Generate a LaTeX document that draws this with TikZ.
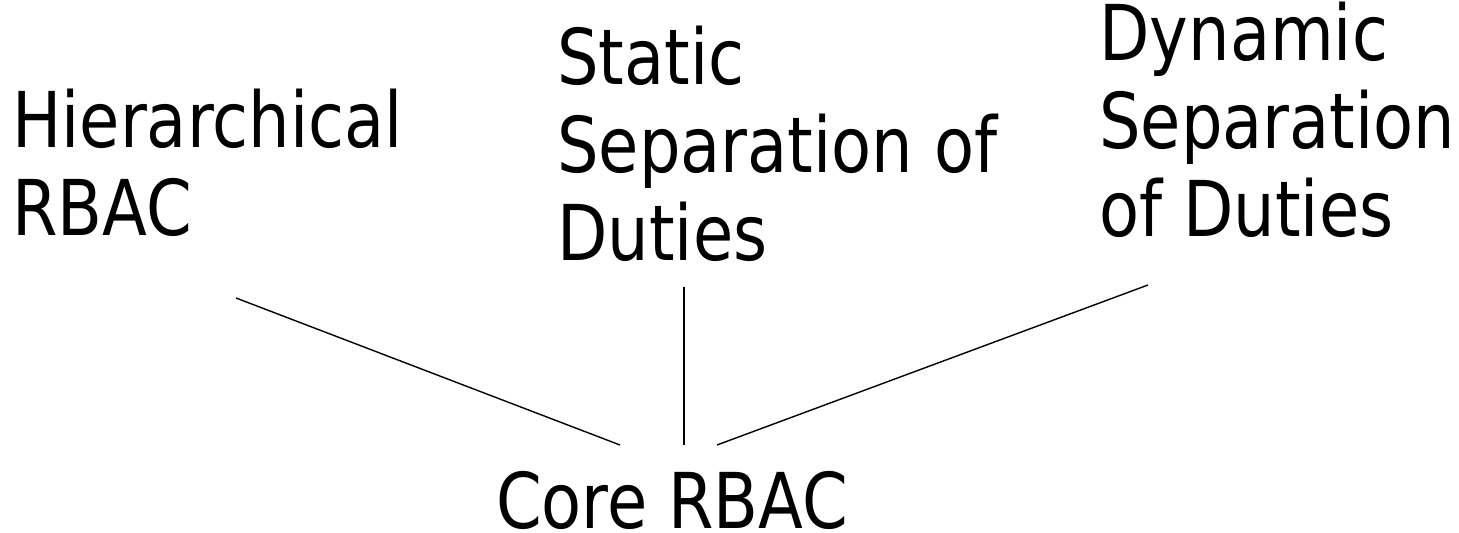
\documentclass[tikz,border=0pt]{standalone}
\usepackage{fontspec}
\setmainfont{DejaVu Sans}[FakeStretch=0.85]
\usepackage{tikz}

\tikzset{
    layer/.style={inner sep=0pt, align=left, font=\fontsize{38.5}{44}\selectfont},
    link/.style={line width=0.7pt}
}

\begin{document}
\begin{tikzpicture}[x=0.5pt, y=-0.5pt]
    \useasboundingbox (0,0) rectangle (1459,533);

    % The three extensions on top
    \node[layer, anchor=north west] (hier) at (12, 89) {Hierarchical\\RBAC};
    \node[layer, anchor=north west] (ssd) at (557, 26) {Static\\Separation of\\Duties};
    \node[layer, anchor=north west] (dsd) at (1099, 2) {Dynamic\\Separation\\of Duties};

    % Base component
    \node[layer, anchor=base] (core) at (672, 528) {Core RBAC};

    % Link ends (lines stop short of the text)
    \coordinate (hierfoot) at (236, 298);
    \coordinate (ssdfoot) at (684, 287);
    \coordinate (dsdfoot) at (1148, 285);
    \coordinate (corel) at (620, 445);
    \coordinate (corem) at (684, 445);
    \coordinate (corer) at (717, 445);

    \draw[link] (hierfoot) -- (corel);
    \draw[link] (ssdfoot) -- (corem);
    \draw[link] (dsdfoot) -- (corer);

\end{tikzpicture}
\end{document}
